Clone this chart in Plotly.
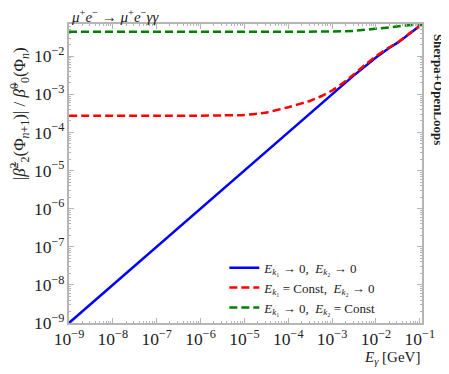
import numpy as np
import plotly.graph_objects as go

# curves (E_gamma in GeV, ratio)
x_blue = [1e-9, 1e-8, 1e-7, 1e-6, 1e-5, 1e-4, 1e-3, 3e-3, 1e-2, 2e-2, 3.2e-2, 6.3e-2, 0.112]
y_blue = [1e-9, 1e-8, 1e-7, 1e-6, 1e-5, 1e-4, 1e-3, 3e-3, 9.3e-3, 1.65e-2, 2.3e-2, 4.2e-2, 0.069]

x_red = [1e-9, 1e-7, 1e-6, 3e-6, 1e-5, 3e-5, 1e-4, 3.2e-4, 5.6e-4, 1e-3, 1.8e-3, 3.2e-3,
         5.6e-3, 1e-2, 2e-2, 3.2e-2, 6.3e-2, 0.112]
y_red = [2.75e-4, 2.75e-4, 2.76e-4, 2.8e-4, 2.88e-4, 3.3e-4, 4.6e-4, 6.8e-4, 8.9e-4, 1.26e-3, 2.0e-3, 3.4e-3,
         5.9e-3, 1.0e-2, 1.7e-2, 2.35e-2, 4.25e-2, 0.069]

x_green = [1e-9, 1e-5, 1e-4, 1e-3, 3e-3, 1e-2, 2e-2, 4e-2, 7e-2, 0.112]
y_green = [0.0437, 0.0437, 0.0438, 0.0442, 0.046, 0.0515, 0.057, 0.063, 0.067, 0.069]

names = [
    "<i>E</i><sub><i>k</i>₁</sub> → 0,  <i>E</i><sub><i>k</i>₂</sub> → 0",
    "<i>E</i><sub><i>k</i>₁</sub> = Const,  <i>E</i><sub><i>k</i>₂</sub> → 0",
    "<i>E</i><sub><i>k</i>₁</sub> → 0,  <i>E</i><sub><i>k</i>₂</sub> = Const",
]

FONT = "Liberation Serif"
AXC = "#b5b5b5"

fig = go.Figure()
fig.add_trace(go.Scatter(x=x_blue, y=y_blue, mode="lines", name=names[0],
                         line=dict(color="#0000ff", width=2.5)))
fig.add_trace(go.Scatter(x=x_red, y=y_red, mode="lines", name=names[1], line_shape="spline",
                         line=dict(color="#ff0000", width=2.5, dash="8px,4px", smoothing=0.6)))
fig.add_trace(go.Scatter(x=x_green, y=y_green, mode="lines", name=names[2],
                         line=dict(color="#008000", width=2.5, dash="8px,4px")))

axis = dict(type="log", dtick=1, exponentformat="power", showgrid=False, zeroline=False,
            showline=True, linecolor=AXC, linewidth=1.5, mirror="ticks",
            ticks="inside", ticklen=5, tickcolor=AXC, tickwidth=1,
            minor=dict(ticks="inside", ticklen=2.5, tickcolor=AXC, dtick="D1"),
            tickfont=dict(family=FONT, size=14, color="#222"))

fig.update_xaxes(**axis, range=[-9, -0.95])
fig.update_yaxes(**axis, range=[-9, -1.155])

# page body adds an 8px margin top/left, so the figure is 8px smaller
fig.update_layout(
    width=441, height=366,
    margin=dict(l=61, r=27, t=16, b=51),
    plot_bgcolor="white", paper_bgcolor="white",
    font=dict(family=FONT, size=14, color="#222"),
    showlegend=True,
    legend=dict(x=0.44, y=0.235, xanchor="left", yanchor="top", bgcolor="rgba(0,0,0,0)",
                font=dict(family=FONT, size=13, color="#222"), tracegroupgap=0),
)

fig.add_annotation(text="<i>μ</i><sup>+</sup><i>e</i><sup>−</sup> → <i>μ</i><sup>+</sup><i>e</i><sup>−</sup><i>γγ</i>",
                   xref="paper", yref="paper", x=0, y=1, xanchor="left", yanchor="bottom",
                   yshift=-3, showarrow=False, font=dict(family=FONT, size=15, color="#222"))
fig.add_annotation(text="<b>Sherpa+OpenLoops</b>", textangle=90,
                   xref="paper", yref="paper", x=1.045, y=0.78, xanchor="center", yanchor="middle",
                   showarrow=False, font=dict(family=FONT, size=13, color="#222"))
fig.add_annotation(text="<i>E</i><sub><i>γ</i></sub> [GeV]",
                   xref="paper", yref="paper", x=1.0, y=-0.118, xanchor="right", yanchor="middle",
                   showarrow=False, font=dict(family=FONT, size=15, color="#222"))
fig.add_annotation(text="|<i>β̃</i><sup>2</sup><sub>2</sub>(Φ<sub><i>n</i>+1</sub>)| / <i>β̃</i><sup>0</sup><sub>0</sub>(Φ<sub><i>n</i></sub>)",
                   textangle=-90, xref="paper", yref="paper", x=-0.14, y=0.7,
                   xanchor="center", yanchor="middle",
                   showarrow=False, font=dict(family=FONT, size=17, color="#222"))

fig.write_html("out.html")
